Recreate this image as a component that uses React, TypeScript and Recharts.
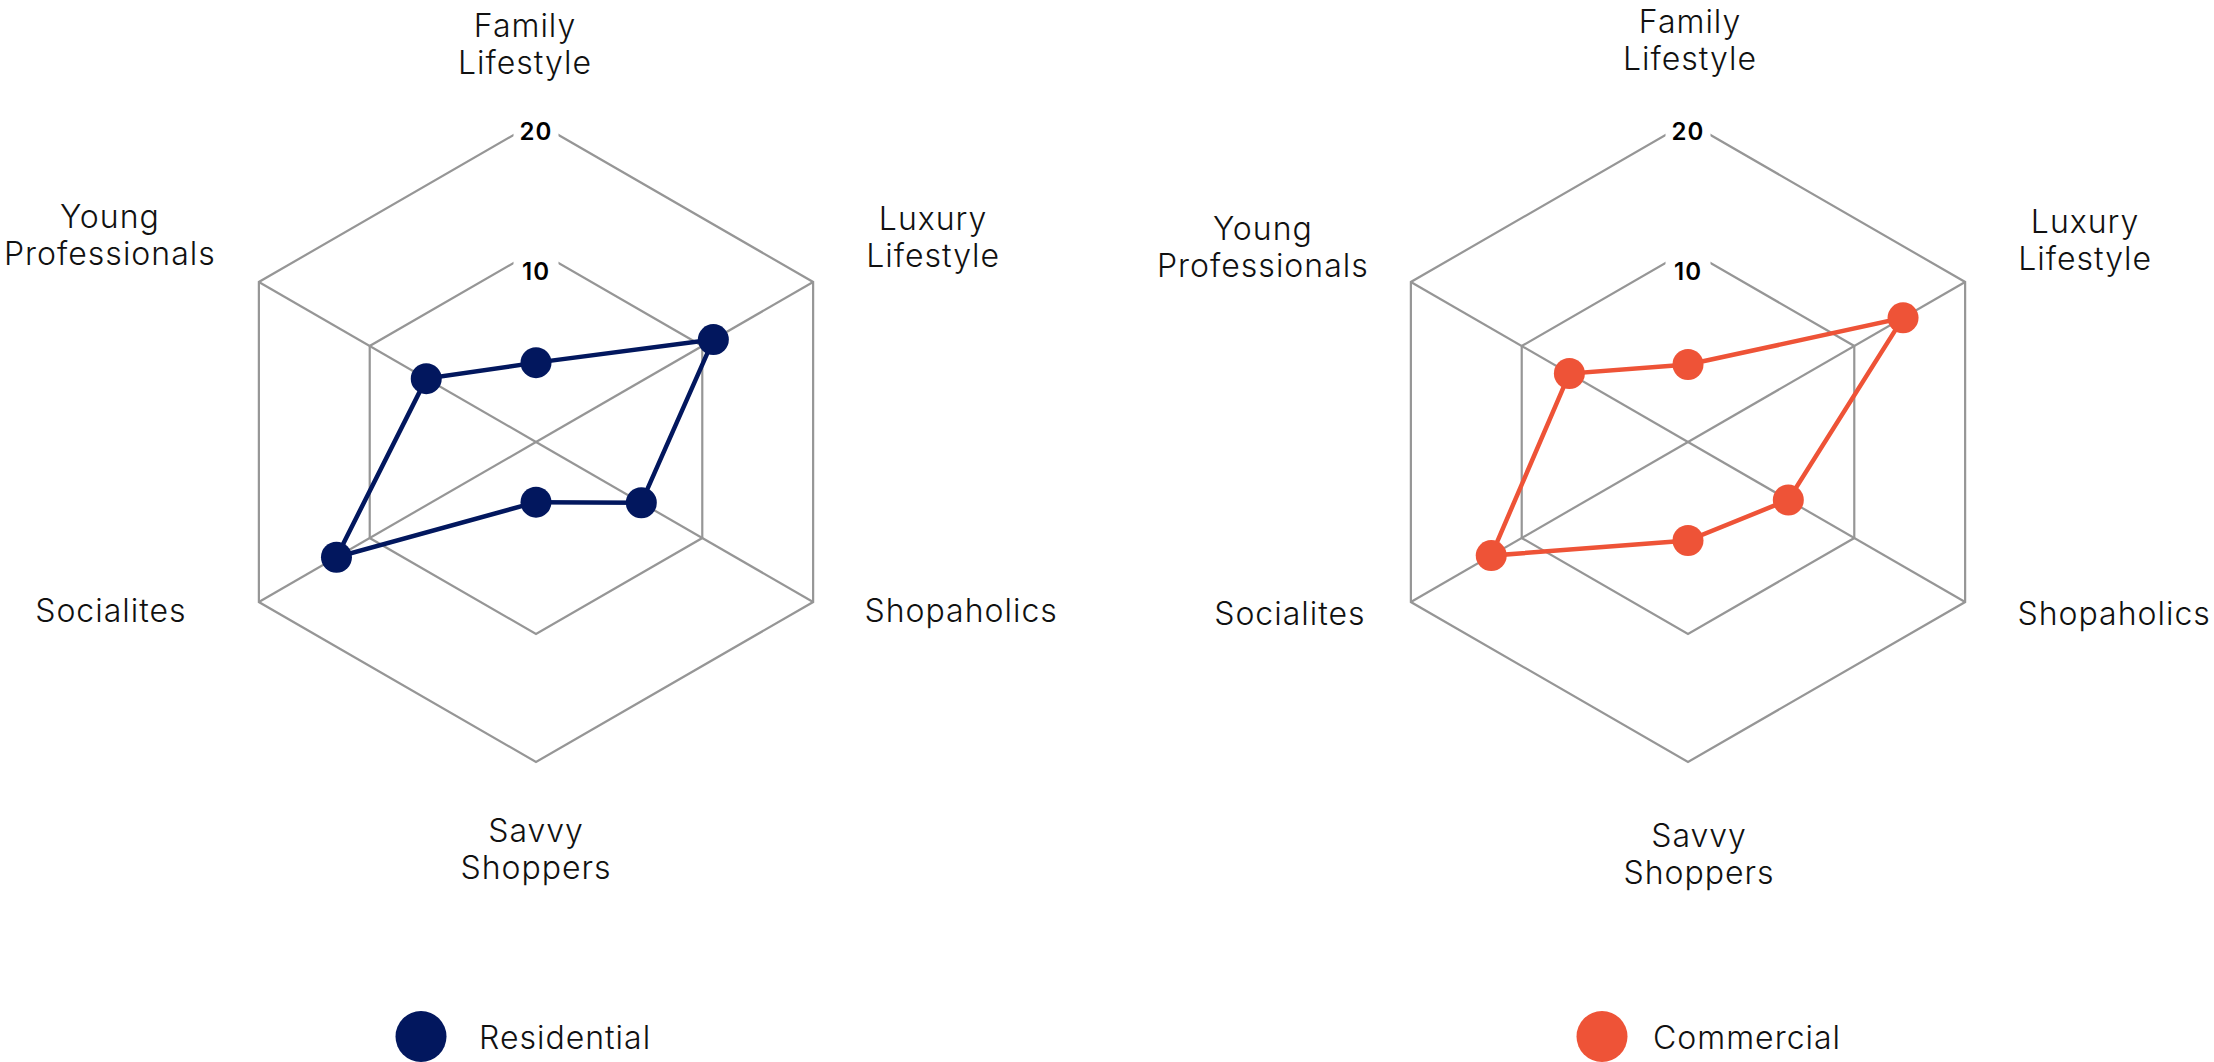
import React from 'react';
import { RadarChart, Radar, PolarGrid, PolarAngleAxis, PolarRadiusAxis, Legend } from 'recharts';

// ---------- data ----------
const categories = [
  'Family Lifestyle',
  'Luxury Lifestyle',
  'Shopaholics',
  'Savvy Shoppers',
  'Socialites',
  'Young Professionals',
];
const residentialValues = [1.2, 11.0, 4.5, -0.3, 13.0, 4.9];
const commercialValues = [1.05, 14.4, 4.05, 2.7, 12.75, 5.7];
const radiusDomain: [number, number] = [-5, 20];
const radiusTicks = [10, 20];
const seriesNames = ['Residential', 'Commercial'];
const seriesColors = ['#02175E', '#EE5337'];

// ---------- style ----------
const FONT = 'Inter, "Open Sans", sans-serif';
const PANEL_W = 1107;
const PANEL_H = 1062;
const OUTER_R = 320;
const CY = 442;
const GRID = '#969696';

type Off = { dx: number; dy: number };
const leftLabelOffsets: Off[] = [
  { dx: -11, dy: -85 },
  { dx: 120, dy: -52 },
  { dx: 148, dy: 20 },
  { dx: 0, dy: 80 },
  { dx: -148, dy: 20 },
  { dx: -149, dy: -54 },
];
const rightLabelOffsets: Off[] = [
  { dx: 2, dy: -89 },
  { dx: 120, dy: -49 },
  { dx: 149, dy: 23 },
  { dx: 11, dy: 85 },
  { dx: -121, dy: 23 },
  { dx: -148, dy: -42 },
];
const tickLabelDy: Record<number, number> = { 10: 30, 20: 18 };

const buildData = (values: number[]) =>
  categories.map((name, i) => ({ name, value: values[i] }));

const spokeAngles = categories
  .map((_, i) => 90 - (360 / categories.length) * i)
  .filter((a) => ((a % 180) + 180) % 180 !== 90);

function makeAngleTick(cx: number, offsets: Off[]) {
  return (props: any) => {
    const { payload, index } = props;
    const ang = (payload.coordinate * Math.PI) / 180;
    const vx = cx + OUTER_R * Math.cos(ang);
    const vy = CY - OUTER_R * Math.sin(ang);
    const o = offsets[index] || { dx: 0, dy: 0 };
    const lines = String(payload.value).split(' ');
    const x = vx + o.dx;
    return (
      <text
        x={x}
        y={vy + o.dy}
        textAnchor="middle"
        fontFamily={FONT}
        fontSize={32}
        fontWeight={300}
        letterSpacing={1}
        fill="#111"
      >
        {lines.map((l, i) => (
          <tspan key={i} x={x} dy={i === 0 ? 0 : 37}>
            {l}
          </tspan>
        ))}
      </text>
    );
  };
}

const RadiusTick = (props: any) => {
  const { x, y, payload } = props;
  if (!radiusTicks.includes(payload.value)) return null;
  const dy = tickLabelDy[payload.value] ?? 18;
  return (
    <g>
      <rect x={x - 22.5} y={y - 8} width={45} height={dy + 14} fill="#fff" />
      <text
        x={x}
        y={y + dy}
        textAnchor="middle"
        fontFamily={FONT}
        fontSize={24}
        fontWeight={600}
        letterSpacing={1}
        fill="#000"
      >
        {payload.value}
      </text>
    </g>
  );
};

function makeLegend(circleX: number, textX: number) {
  return (props: any) => {
    const item = (props.payload || [])[0];
    if (!item) return null;
    return (
      <svg width={PANEL_W} height={51} style={{ display: 'block' }}>
        <circle cx={circleX} cy={25.5} r={25.5} fill={item.color} />
        <text
          x={textX}
          y={37.7}
          fontFamily={FONT}
          fontSize={32}
          fontWeight={300}
          letterSpacing={1}
          fill="#111"
        >
          {item.value}
        </text>
      </svg>
    );
  };
}

type PanelProps = {
  left: number;
  cx: number;
  values: number[];
  name: string;
  color: string;
  offsets: Off[];
  legendCircleX: number;
  legendTextX: number;
};

const Panel = ({ left, cx, values, name, color, offsets, legendCircleX, legendTextX }: PanelProps) => (
  <div style={{ position: 'absolute', left, top: 0, width: PANEL_W, height: PANEL_H }}>
    <RadarChart
      width={PANEL_W}
      height={PANEL_H}
      data={buildData(values)}
      cx={cx}
      cy={CY}
      outerRadius={OUTER_R}
      margin={{ top: 0, right: 0, bottom: 0, left: 0 }}
    >
      <PolarGrid gridType="polygon" radialLines={false} stroke={GRID} strokeWidth={2.2} strokeOpacity={1} />
      <PolarGrid polarAngles={spokeAngles} polarRadius={[]} stroke={GRID} strokeWidth={2.2} strokeOpacity={1} />
      <PolarAngleAxis
        dataKey="name"
        axisLine={false}
        tickLine={false}
        tick={makeAngleTick(cx, offsets)}
      />
      <PolarRadiusAxis
        angle={90}
        domain={radiusDomain}
        ticks={radiusTicks}
        axisLine={false}
        tickLine={false}
        tick={RadiusTick}
      />
      <Radar
        name={name}
        dataKey="value"
        stroke={color}
        strokeWidth={4.5}
        fill="none"
        fillOpacity={0}
        dot={{ r: 15.5, fill: color, stroke: 'none', fillOpacity: 1 }}
        isAnimationActive={false}
      />
      <Legend
        verticalAlign="bottom"
        content={makeLegend(legendCircleX, legendTextX)}
        wrapperStyle={{ left: 0, top: 1011, bottom: 'auto', width: PANEL_W, height: 51 }}
      />
    </RadarChart>
  </div>
);

export default function App() {
  return (
    <div
      style={{
        position: 'absolute',
        left: 0,
        top: 0,
        width: 2214,
        height: 1062,
        background: '#fff',
        overflow: 'hidden',
        fontFamily: FONT,
      }}
    >
      <Panel
        left={0}
        cx={536}
        values={residentialValues}
        name={seriesNames[0]}
        color={seriesColors[0]}
        offsets={leftLabelOffsets}
        legendCircleX={421}
        legendTextX={479}
      />
      <Panel
        left={PANEL_W}
        cx={581}
        values={commercialValues}
        name={seriesNames[1]}
        color={seriesColors[1]}
        offsets={rightLabelOffsets}
        legendCircleX={495}
        legendTextX={546}
      />
    </div>
  );
}
